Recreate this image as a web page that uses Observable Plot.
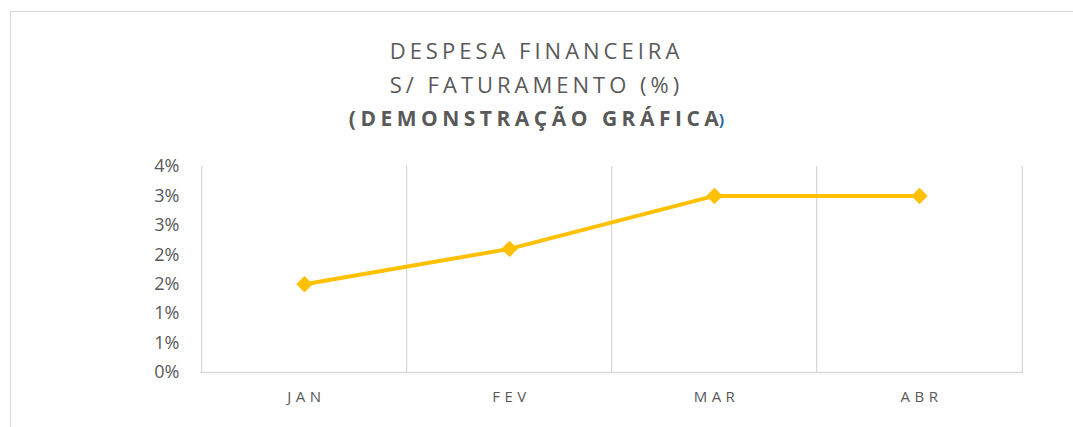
<!DOCTYPE html>
<html>
<head>
<meta charset="utf-8">
<script src="https://cdn.jsdelivr.net/npm/d3@7"></script>
<script src="https://cdn.jsdelivr.net/npm/@observablehq/plot@0.6"></script>
<style>
  html, body { margin: 0; padding: 0; background: #fff; }
  #wrap { position: relative; width: 1073px; height: 427px; overflow: hidden; font-family: "Open Sans", sans-serif; }
  #frame { position: absolute; left: 10px; top: 11px; width: 1080px; height: 430px; border-top: 1px solid #d9d9d9; border-left: 1px solid #d9d9d9; }
  #title { position: absolute; left: 0; width: 1073px; top: 33px; text-align: center; color: #595959; }
  .t1 { font-size: 22px; letter-spacing: 4px; line-height: 34px; }
  .t3 { font-size: 21px; font-weight: bold; letter-spacing: 4.5px; line-height: 34px; }
  .t3 .main { letter-spacing: 4.5px; }
  .paren { color: #2e6da4; font-weight: bold; font-size: 16px; letter-spacing: 0; }
  #chart { position: absolute; left: 0; top: 0; }
  #chart g[aria-label="text"] text { letter-spacing: 4.5px; }
</style>
</head>
<body>
<div id="wrap">
  <div id="frame"></div>
  <div id="chart"></div>
  <div id="title">
    <div class="t1">DESPESA FINANCEIRA</div>
    <div class="t1">S/ FATURAMENTO (%)</div>
    <div class="t3"><span class="main">(DEMONSTRAÇÃO GRÁFIC</span><span style="letter-spacing:0">A</span><span class="paren">)</span></div>
  </div>
</div>
<script>
const months = ["JAN", "FEV", "MAR", "ABR"];
const values = [0.015, 0.021, 0.030, 0.030];
const yTicks = [0, 0.005, 0.010, 0.015, 0.020, 0.025, 0.030, 0.035];
const yTickLabels = ["0%", "1%", "1%", "2%", "2%", "3%", "3%", "4%"];

const data = months.map((m, i) => ({month: m, value: values[i]}));

const W = 1073, H = 427;
const mL = 200, mR = 50, mT = 166, mB = 55;
const bw = (W - mL - mR) / months.length;
const grid = "#d9d9d9";
const gold = "#ffc000";
const fmt = (d) => yTickLabels[yTicks.findIndex(t => Math.abs(t - d) < 1e-9)];

const chart = Plot.plot({
  width: W,
  height: H,
  marginLeft: mL,
  marginRight: mR,
  marginTop: mT,
  marginBottom: mB,
  style: {fontFamily: "Open Sans, sans-serif", background: "transparent", overflow: "visible"},
  x: {type: "point", domain: months, padding: 0.5, label: null, axis: null},
  y: {domain: [0, 0.035], ticks: yTicks, tickFormat: fmt, label: null, axis: null},
  marks: [
    Plot.ruleX(months, {x: d => d, dx: -bw / 2, stroke: grid, strokeWidth: 1.3, strokeOpacity: 1}),
    Plot.ruleX(months.slice(-1), {x: d => d, dx: bw / 2, stroke: grid, strokeWidth: 1.3, strokeOpacity: 1}),
    Plot.ruleY([0], {stroke: grid, strokeWidth: 1.3}),
    Plot.axisY({ticks: yTicks, tickFormat: fmt, tickSize: 0, tickPadding: 21, fontSize: 18, color: "#595959", label: null}),
    Plot.text(months, {x: d => d, y: 0, text: d => d, dy: 25, dx: 2, fontSize: 15, fill: "#595959"}),
    Plot.line(data, {x: "month", y: "value", stroke: gold, strokeWidth: 4, strokeLinejoin: "round"}),
    Plot.dot(data, {x: "month", y: "value", symbol: "diamond2", r: 7, fill: gold, stroke: gold, strokeWidth: 1})
  ]
});
document.getElementById("chart").appendChild(chart);
</script>
</body>
</html>
